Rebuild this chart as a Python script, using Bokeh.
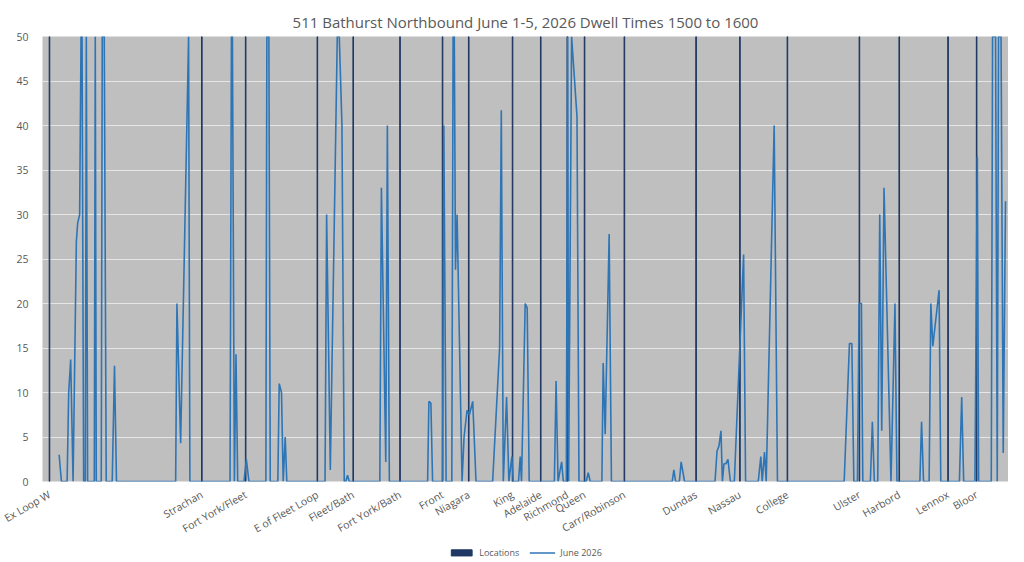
from bokeh.plotting import figure
from bokeh.models import FixedTicker, Legend, LegendItem, Range1d
from bokeh.layouts import column
from bokeh.embed import file_html
from bokeh.resources import INLINE

loc_names = ["Ex Loop W","Strachan","Fort York/Fleet","E of Fleet Loop","Fleet/Bath","Fort York/Bath",
             "Front","Niagara","King","Adelaide","Richmond","Queen","Carr/Robinson","Dundas","Nassau",
             "College","Ulster","Harbord","Lennox","Bloor"]
loc_pos = [49,202,246,318,354,401,443.7,470,514,542.3,569,586.3,626.3,698.3,742.3,790,862.3,902.3,951.3,980]
loc_val = [50]*len(loc_names)

dwell_x = [58.7,61,66.7,68.3,70.3,72.7,76,77.3,79.3,80.7,81.7,83.3,85,86,87.3,94,95,96,101,102,104,106,112,114.3,116.3,
 175.7,177,180.7,188.7,190,230.3,231.7,232.7,234.7,236.3,238,244.3,246.7,249.3,266.3,267.3,269.3,270.7,278.3,279.7,282,
 283.7,285.7,287.3,325.7,327.3,331,338,340,342.7,345,346.5,348.3,350,380.7,382.3,386.7,388.3,390.3,428.7,430,432,433.7,
 443.7,445,447.3,453,454.3,455.5,456.7,458.3,463.3,465.3,468.3,470.7,474,477.3,494,501,502.7,504.7,508,510.3,513.3,514.7,
 520,521.7,523,526.7,528.7,530.7,556,557.7,559.7,563.3,565,568,569.3,570.3,573.3,578.7,580.7,588,590,592,603.7,605,607,
 611,613.3,674.3,676,677.7,681.5,683.3,686.7,717.3,719.3,721.3,723.3,724.7,726.3,728.3,730.3,732.7,736.7,746,748,760.7,
 763.3,764.7,767,768.7,776.7,780,847,852.3,854.7,856.7,860.3,862,864.3,865.7,873.3,875.3,877.3,880.7,882.7,884.7,887,894,
 898,900,923,924.7,926.7,932.3,934,936,942.3,944,962.7,965,967,978.3,980.7,982,994.7,996,999,1000.7,1002,1004.5,1006.7,1009]
dwell_y = [3,0,0,10,13.7,0,27,29,30,50,50,0,0,50,0,0,50,0,0,50,50,0,0,13,0,
 0,20,4.3,50,0,0,50,50,0,14.3,0,0,2.5,0,0,50,50,0,0,11,10,
 0,5,0,0,30,1.3,50,50,40,0,0,0.7,0,0,33,2.2,40,0,0,9,8.8,0,
 0,40,0,0,50,50,23.8,30,0,5,8,7.5,9,0,0,15,41.7,0,9.5,0,2.8,0,
 0,2.8,0,20,19.5,0,0,11.3,0,2.2,0,0,50,0,50,41,0,0,1,0,0,13.3,5.3,
 27.8,0,0,1.3,0,0,2.2,0,0,3.4,4,5.7,0,2,2,2.5,0,0,25.5,0,0,
 2.8,0,3.3,0,40,0,0,15.5,15.5,0,0,20,20,0,0,6.7,0,0,30,5.7,33,0,
 20,0,0,6.7,0,0,20,15.2,21.5,0,0,9.5,0,0,36.5,0,0,50,50,0,50,50,3.2,31.5]
y_ticks = list(range(0, 51, 5))
LOC_COLOR = "#1f3864"
LINE_COLOR = "#2e75b6"

p = figure(width=1008, height=544, output_backend="svg", toolbar_location=None,
           x_range=Range1d(42, 1012), y_range=Range1d(0, 50),
           title="511 Bathurst Northbound June 1-5, 2026 Dwell Times 1500 to 1600",
           min_border_left=42, min_border_right=0, min_border_top=36, min_border_bottom=54)
p.title.align = "center"
p.title.text_font = "Open Sans"
p.title.text_font_size = "15px"
p.title.text_font_style = "normal"
p.title.text_color = "#595959"
p.background_fill_color = "#bfbfbf"
p.outline_line_color = None
p.xgrid.grid_line_color = None
p.ygrid.grid_line_color = "#e6e6e6"
p.ygrid.grid_line_width = 1

p.vbar(x=loc_pos, top=loc_val, width=0.6, color=LOC_COLOR)
p.line(dwell_x, dwell_y, line_color=LINE_COLOR, line_width=1.6)

p.yaxis.ticker = FixedTicker(ticks=y_ticks)
p.xaxis.ticker = FixedTicker(ticks=loc_pos)
p.xaxis.major_label_overrides = {v: n for v, n in zip(loc_pos, loc_names)}
p.xaxis.major_label_orientation = 0.52
for ax in (p.xaxis, p.yaxis):
    ax.axis_line_color = None
    ax.major_tick_line_color = None
    ax.minor_tick_line_color = None
    ax.major_label_text_color = "#595959"
    ax.major_label_text_font = "Open Sans"
    ax.major_label_text_font_size = "10.5px"
p.xaxis.major_label_standoff = 6
p.yaxis.major_label_standoff = 8

# legend strip (sample glyphs kept outside its visible range)
lg = figure(width=1008, height=16, output_backend="svg", toolbar_location=None,
            x_range=Range1d(0, 1), y_range=Range1d(0, 1), min_border=0)
lg.axis.visible = False
lg.grid.visible = False
lg.outline_line_color = None
r1 = lg.vbar(x=[-5], top=[-5], bottom=[-6], width=0.1, color=LOC_COLOR)
r2 = lg.line(x=[-5, -6], y=[-5, -5], line_color=LINE_COLOR, line_width=1.6)
legend = Legend(items=[LegendItem(label="Locations", renderers=[r1]),
                       LegendItem(label="June 2026", renderers=[r2])],
                orientation="horizontal", location="center", border_line_color=None,
                background_fill_alpha=0, label_text_font="Open Sans", label_text_font_size="9px",
                label_text_color="#595959", glyph_width=26, glyph_height=8, spacing=10,
                padding=1, margin=0, label_height=10)
lg.add_layout(legend, "center")

open("out.html", "w").write(file_html(column(p, lg, spacing=0), INLINE))
